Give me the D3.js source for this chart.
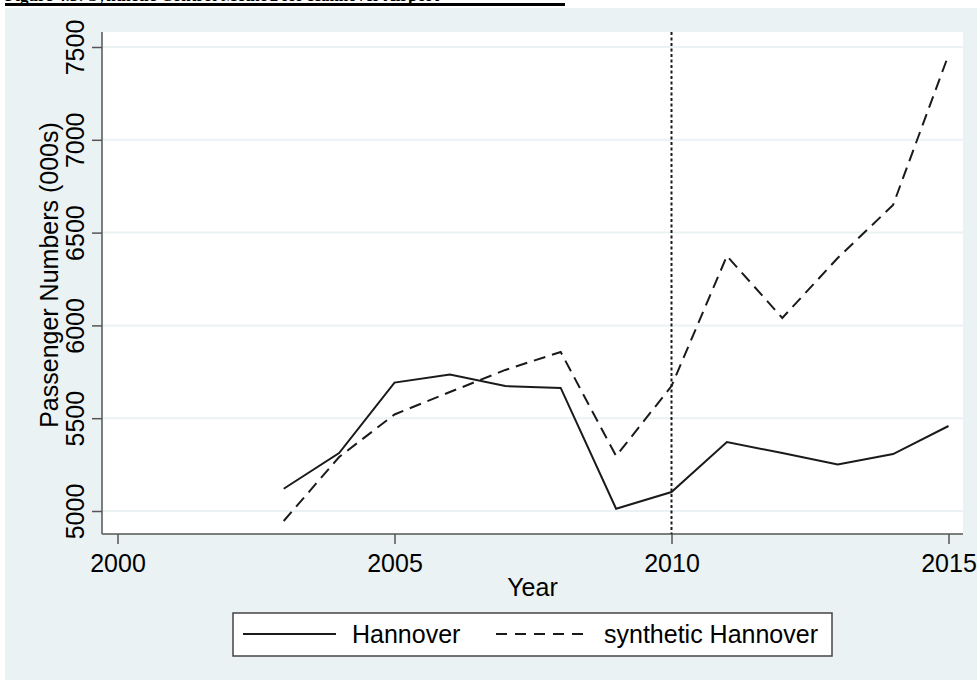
<!DOCTYPE html>
<html>
<head>
<meta charset="utf-8">
<script src="https://cdn.jsdelivr.net/npm/d3@7/dist/d3.min.js"></script>
<style>
  body { margin: 0; background: #fff; }
  svg { display: block; }
  text { font-family: "Liberation Sans", Arial, sans-serif; fill: #000; }
</style>
</head>
<body>
<div id="chart"></div>
<script>
var years = [2003, 2004, 2005, 2006, 2007, 2008, 2009, 2010, 2011, 2012, 2013, 2014, 2015];
var hannover = [5120, 5312, 5692, 5735, 5673, 5663, 5012, 5102, 5372, 5312, 5250, 5307, 5458];
var synthetic = [4946, 5291, 5520, 5641, 5760, 5857, 5296, 5673, 6374, 6040, 6363, 6649, 7457];
var x_ticks = [2000, 2005, 2010, 2015];
var y_ticks = [5000, 5500, 6000, 6500, 7000, 7500];
var treatment_year = 2010;
var series_names = ['Hannover', 'synthetic Hannover'];

var width = 977, height = 680;
var plot = {left: 102, right: 963, top: 32, bottom: 534};
var bg_color = '#EAF2F3';
var line_color = '#1a1a1a';
var font_size = 25;

var svg = d3.select('#chart')
    .append('svg')
        .attr('width', width)
        .attr('height', height);

// caption of the page, cut off at the top of the picture
svg.append('text')
    .attr('x', 5)
    .attr('y', 0.5)
    .style('font-family', '"Liberation Serif", "Times New Roman", serif')
    .style('font-weight', 'bold')
    .style('font-size', '17px')
    .text('Figure 4.5: Synthetic Control Method for Hannover Airport');
svg.append('rect')
    .attr('x', 5).attr('y', 3)
    .attr('width', 560).attr('height', 3)
    .attr('fill', '#000');

svg.append('rect')
    .attr('x', 5).attr('y', 8)
    .attr('width', width - 5).attr('height', height - 8)
    .attr('fill', bg_color);

svg.append('rect')
    .attr('x', plot.left).attr('y', plot.top)
    .attr('width', plot.right - plot.left).attr('height', plot.bottom - plot.top)
    .attr('fill', '#fff');

var x_scale = d3.scaleLinear().domain([2000, 2015]).range([117.5, 948.5]);
var y_scale = d3.scaleLinear().domain([5000, 7500]).range([511, 47]);

// gridlines
svg.append('g')
    .selectAll('line')
    .data(y_ticks)
    .enter()
    .append('line')
        .attr('x1', plot.left)
        .attr('x2', plot.right)
        .attr('y1', function(d) {return y_scale(d);})
        .attr('y2', function(d) {return y_scale(d);})
        .attr('stroke', bg_color)
        .attr('stroke-width', 2);

// axes
var x_axis = d3.axisBottom(x_scale).tickValues(x_ticks).tickFormat(d3.format('d'))
    .tickSize(10).tickPadding(4);
var y_axis = d3.axisLeft(y_scale).tickValues(y_ticks).tickFormat(d3.format('d'))
    .tickSize(10).tickPadding(0);

var gx = svg.append('g')
    .attr('class', 'x-axis')
    .attr('transform', 'translate(0,' + plot.bottom + ')')
    .call(x_axis);
gx.select('.domain').remove();
gx.selectAll('line').attr('stroke', '#555').attr('stroke-width', 1.5);
gx.selectAll('text')
    .attr('y', 38)
    .attr('dy', null)
    .style('font-size', font_size + 'px');

var gy = svg.append('g')
    .attr('class', 'y-axis')
    .attr('transform', 'translate(' + plot.left + ',0)')
    .call(y_axis);
gy.select('.domain').remove();
gy.selectAll('line').attr('stroke', '#555').attr('stroke-width', 1.5);
gy.selectAll('text')
    .attr('x', null)
    .attr('dy', null)
    .attr('transform', 'translate(-18,0)rotate(-90)')
    .style('text-anchor', 'middle')
    .style('font-size', font_size + 'px');

svg.append('line')
    .attr('x1', plot.left).attr('x2', plot.right)
    .attr('y1', plot.bottom).attr('y2', plot.bottom)
    .attr('stroke', '#555').attr('stroke-width', 1.5);
svg.append('line')
    .attr('x1', plot.left).attr('x2', plot.left)
    .attr('y1', plot.top).attr('y2', plot.bottom)
    .attr('stroke', '#555').attr('stroke-width', 1.5);

// axis titles
svg.append('text')
    .attr('x', (plot.left + plot.right) / 2)
    .attr('y', 596)
    .style('text-anchor', 'middle')
    .style('font-size', font_size + 'px')
    .text('Year');
svg.append('text')
    .attr('transform', 'translate(58,275)rotate(-90)')
    .style('text-anchor', 'middle')
    .style('font-size', font_size + 'px')
    .text('Passenger Numbers (000s)');

// treatment line
svg.append('line')
    .attr('x1', x_scale(treatment_year)).attr('x2', x_scale(treatment_year))
    .attr('y1', plot.top).attr('y2', plot.bottom)
    .attr('stroke', line_color)
    .attr('stroke-width', 2)
    .attr('stroke-dasharray', '3,2.5');

// series
var line = d3.line()
    .x(function(d) {return x_scale(d[0]);})
    .y(function(d) {return y_scale(d[1]);});

svg.append('path')
    .datum(years.map(function(y, i) {return [y, hannover[i]];}))
    .attr('d', line)
    .attr('fill', 'none')
    .attr('stroke', line_color)
    .attr('stroke-width', 2);

svg.append('path')
    .datum(years.map(function(y, i) {return [y, synthetic[i]];}))
    .attr('d', line)
    .attr('fill', 'none')
    .attr('stroke', line_color)
    .attr('stroke-width', 2)
    .attr('stroke-dasharray', '12,7');

// legend
var legend = svg.append('g');
legend.append('rect')
    .attr('x', 233).attr('y', 613)
    .attr('width', 599).attr('height', 43)
    .attr('fill', '#fff')
    .attr('stroke', '#444')
    .attr('stroke-width', 1.5);
legend.append('line')
    .attr('x1', 243).attr('x2', 336)
    .attr('y1', 634).attr('y2', 634)
    .attr('stroke', line_color).attr('stroke-width', 2);
legend.append('text')
    .attr('x', 352).attr('y', 643)
    .style('font-size', font_size + 'px')
    .text(series_names[0]);
legend.append('line')
    .attr('x1', 496).attr('x2', 590)
    .attr('y1', 634).attr('y2', 634)
    .attr('stroke', line_color).attr('stroke-width', 2)
    .attr('stroke-dasharray', '11,8');
legend.append('text')
    .attr('x', 604).attr('y', 643)
    .style('font-size', font_size + 'px')
    .text(series_names[1]);
</script>
</body>
</html>
